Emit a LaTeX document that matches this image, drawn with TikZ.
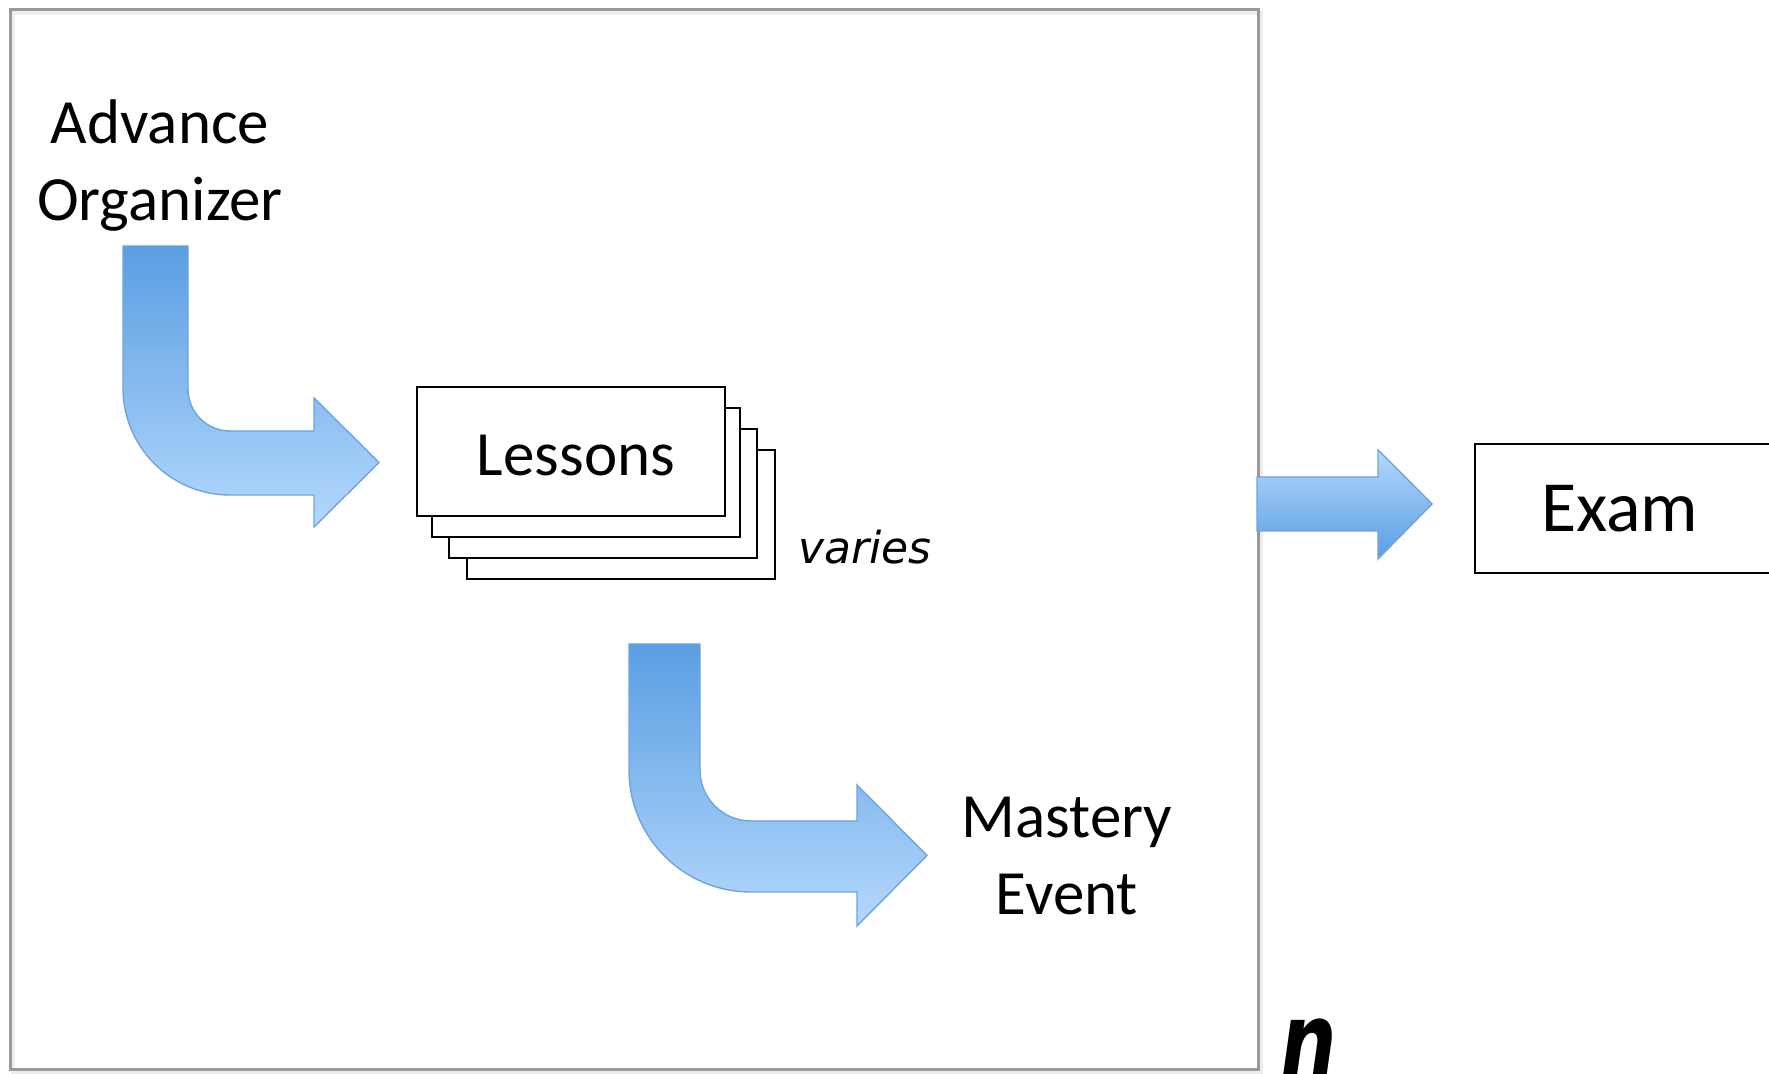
\documentclass[tikz,border=0pt]{standalone}
\usepackage{fontspec}
\usepackage{graphicx}
\setmainfont{Carlito}
\newfontfamily\handfont{DejaVu Sans}
\definecolor{framegray}{HTML}{999999}
\definecolor{flowdark}{HTML}{5A9EE2}
\definecolor{flowlight}{HTML}{B4D8FD}
\definecolor{flowedge}{HTML}{6FA4DC}
\tikzset{
  x=0.5pt, y=-0.5pt,
  label text/.style={font=\fontsize{31.5}{38.5}\selectfont, align=center, inner sep=0pt},
  card/.style={draw=black, line width=1pt, fill=white, minimum width=154pt, minimum height=64.5pt, inner sep=0pt},
  flow down/.style={draw=flowedge, line width=0.7pt, top color=flowdark, bottom color=flowlight},
  flow up/.style={draw=flowedge, line width=0.7pt, top color=flowlight, bottom color=flowdark},
}
\begin{document}
\begin{tikzpicture}
\clip (0,0) rectangle (1769,1074);
\fill[white] (0,0) rectangle (1769,1074);

% unit frame with a soft shadow
\draw[black!7, line width=2pt] (13,13) rectangle (1261,1072);
\node[draw=framegray, line width=1.5pt, minimum width=624pt, minimum height=529.5pt, inner sep=0pt] (unit) at (634,539.5) {};

% texts (base anchor sits on the last line)
\node[label text, anchor=base] (adv) at (160,221) {Advance\\Organizer};
\node[label text, anchor=base] (mastery) at (1067,914) {Mastery\\Event};

% stacked lesson cards
\node[card] (card4) at (621,514.5) {};
\node[card] (card3) at (603,493.5) {};
\node[card] (card2) at (586,472.5) {};
\node[card, font=\fontsize{31.5}{38.5}\selectfont] (lessons) at (571,451.5) {};
\node[font=\fontsize{31.5}{38.5}\selectfont, anchor=base, inner sep=0pt] (lessonstext) at (576,476) {Lessons};
\node[font=\handfont\itshape\fontsize{22}{26}\selectfont, anchor=base west, inner sep=0pt] (varies) at (798,564) {varies};

% exam box
\node[draw=black, line width=1pt, minimum width=149pt, minimum height=64.5pt, inner sep=0pt, font=\fontsize{36}{42}\selectfont] (exam) at (1624,508.5) {\hspace*{-4pt}Exam};

% bent arrow: organizer -> lessons
\path[flow down] (123,246) -- (188,246) -- (188,389)
  arc[start angle=180, end angle=270, radius=21pt] -- (314,431) -- (314,398)
  -- (379,462.5) -- (314,527) -- (314,495) -- (230,495)
  arc[start angle=270, end angle=180, radius=53.5pt] -- cycle;

% bent arrow: lessons -> mastery event
\path[flow down] (629,644) -- (700,644) -- (700,770)
  arc[start angle=180, end angle=270, radius=25.5pt] -- (857,821) -- (857,785)
  -- (927,855.5) -- (857,926) -- (857,892) -- (751,892)
  arc[start angle=270, end angle=180, radius=61pt] -- cycle;

% arrow: unit -> exam
\path[flow up] (1257,477) -- (1378,477) -- (1378,450) -- (1432,504)
  -- (1378,559) -- (1378,531) -- (1257,531) -- cycle;

% repetition count
\node[font=\handfont\bfseries\itshape\fontsize{55}{60}\selectfont, anchor=base west, inner sep=0pt] (reps) at (1280,1080) {\scalebox{0.72}[1]{n}};
\end{tikzpicture}
\end{document}
